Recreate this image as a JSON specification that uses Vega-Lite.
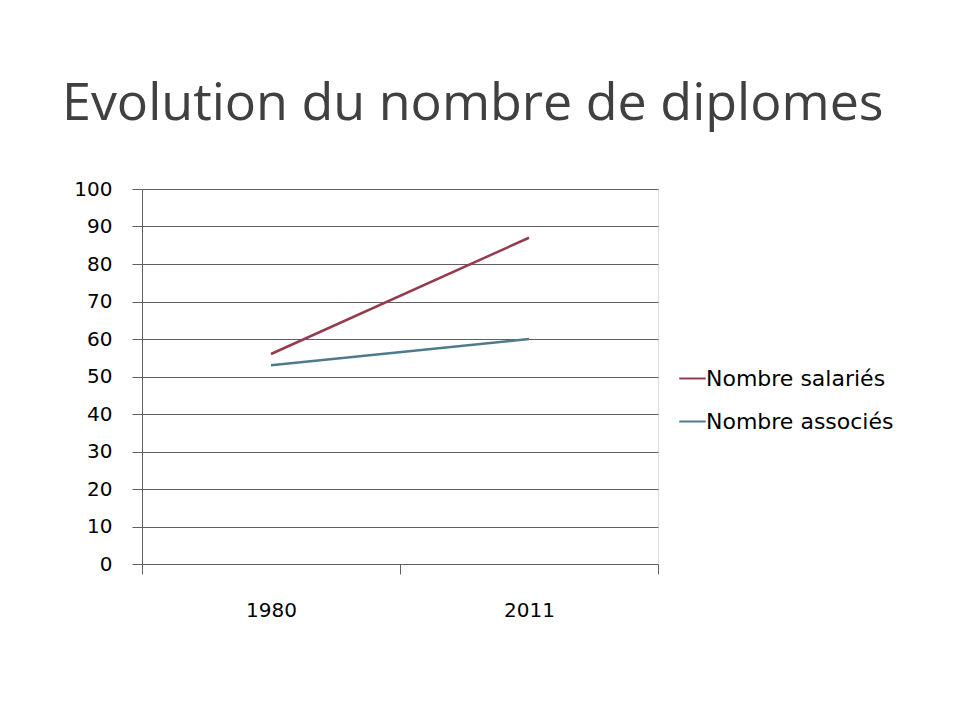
{
  "$schema": "https://vega.github.io/schema/vega-lite/v6.json",
  "width": 516,
  "height": 375,
  "autosize": {"type": "none"},
  "padding": {"left": 142, "top": 189, "right": 298, "bottom": 160},
  "background": "white",
  "title": {
    "text": "Evolution du nombre de diplomes",
    "anchor": "start",
    "frame": "group",
    "dx": -80,
    "fontSize": 52,
    "font": "Open Sans",
    "fontWeight": "normal",
    "color": "#404040",
    "baseline": "alphabetic",
    "offset": 7
  },
  "data": {
    "values": [
      {"annee": "1980", "serie": "Nombre salariés", "valeur": 56},
      {"annee": "2011", "serie": "Nombre salariés", "valeur": 87},
      {"annee": "1980", "serie": "Nombre associés", "valeur": 53},
      {"annee": "2011", "serie": "Nombre associés", "valeur": 60}
    ]
  },
  "mark": {"type": "line", "strokeWidth": 2.5},
  "encoding": {
    "x": {
      "field": "annee",
      "type": "ordinal",
      "scale": {"type": "band", "paddingInner": 0, "paddingOuter": 0},
      "axis": {
        "title": null,
        "labelAngle": 0,
        "tickBand": "extent",
        "domain": false,
        "grid": false,
        "ticks": true,
        "tickSize": 10,
        "tickColor": "#606060",
        "labelPadding": 26,
        "labelFont": "DejaVu Sans",
        "labelFontSize": 20,
        "labelColor": "#000000"
      }
    },
    "y": {
      "field": "valeur",
      "type": "quantitative",
      "scale": {"domain": [0, 100]},
      "axis": {
        "title": null,
        "values": [0, 10, 20, 30, 40, 50, 60, 70, 80, 90, 100],
        "grid": true,
        "gridColor": "#606060",
        "domain": true,
        "domainColor": "#606060",
        "tickColor": "#606060",
        "tickSize": 10,
        "labelPadding": 20,
        "labelFont": "DejaVu Sans",
        "labelFontSize": 20,
        "labelColor": "#000000"
      }
    },
    "color": {
      "field": "serie",
      "type": "nominal",
      "scale": {"domain": ["Nombre salariés", "Nombre associés"], "range": ["#943C4E", "#4E7A8C"]},
      "legend": {
        "title": null,
        "orient": "none",
        "legendX": 536,
        "legendY": 175,
        "symbolType": "stroke",
        "symbolSize": 700,
        "symbolStrokeWidth": 2,
        "labelFont": "DejaVu Sans",
        "labelFontSize": 22,
        "labelColor": "#000000",
        "labelOffset": -1,
        "labelLimit": 400,
        "rowPadding": 17
      }
    }
  }
}
